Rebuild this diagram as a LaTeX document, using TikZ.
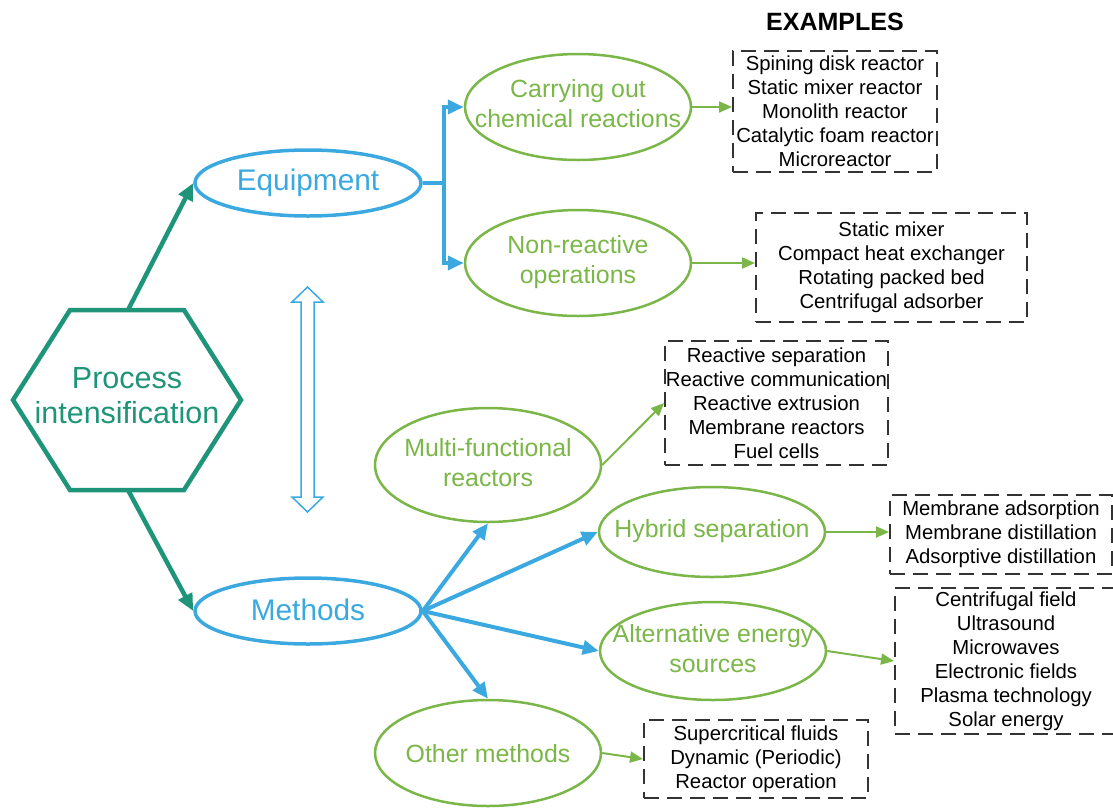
\documentclass[tikz,border=0pt]{standalone}
\usepackage{fontspec}
\setmainfont{Liberation Sans}
\usetikzlibrary{shapes.geometric,arrows.meta,calc}
\definecolor{tealc}{HTML}{1E9479}
\definecolor{bluec}{HTML}{3BA9E0}
\definecolor{greenc}{HTML}{7AB648}
\definecolor{dgray}{HTML}{333333}
\begin{document}
\begin{tikzpicture}[x=1pt,y=-1pt,
 blueell/.style={ellipse,draw=bluec,line width=3.5pt,minimum width=226pt,minimum height=66pt,inner sep=0pt},
 greenell/.style={ellipse,draw=greenc,line width=2.5pt,minimum width=226pt,inner sep=0pt},
 btext/.style={text=bluec,font=\fontsize{29.8}{34}\selectfont,inner sep=0pt},
 gtext/.style={text=greenc,font=\fontsize{24.9}{30}\selectfont,align=center,inner sep=0pt},
 exbox/.style={draw=dgray,line width=2pt,dash pattern=on 15pt off 8pt,inner sep=0pt,font=\fontsize{20.3}{24}\selectfont,align=center,text=black},
 barrow/.style={draw=bluec,line width=4pt,-{Triangle[length=16pt,width=14pt]}},
 garrow/.style={draw=greenc,line width=2pt,-{Triangle[length=13pt,width=11pt]}},
 tarrow/.style={draw=tealc,line width=4.5pt,-{Triangle[length=17pt,width=15pt]}},
]
\useasboundingbox (0,0) rectangle (1113,807);

% hexagon
\coordinate (h1) at (13,400);
\coordinate (h2) at (70,310);
\coordinate (h3) at (184,310);
\coordinate (h4) at (241,400);
\coordinate (h5) at (184,490);
\coordinate (h6) at (70,490);
\draw[tealc,line width=4.5pt,line join=miter] (h1) -- (h2) -- (h3) -- (h4) -- (h5) -- (h6) -- cycle;
\node[text=tealc,font=\fontsize{30.5}{35}\selectfont,align=center,inner sep=0pt] (pi) at (127,396) {Process\\intensification};
\coordinate (hxt) at (128,310);
\coordinate (hxb) at (128,490);

% blue ellipses
\node[blueell] (eq) at (308,183) {};
\node[btext] (eqt) at (308,183) {Equipment};
\node[blueell] (me) at (308,611) {};
\node[btext] (met) at (308,610) {Methods};

\draw[tarrow] (hxt) -- (eq.west);
\draw[tarrow] (hxb) -- (me.west);

% double arrow
\draw[bluec,line width=1.5pt,line join=miter] (307.5,287) -- (323,302) -- (314,302) -- (314,497) -- (323,497) -- (307.5,512) -- (292,497) -- (301,497) -- (301,302) -- (292,302) -- cycle;

% green ellipses
\node[greenell,minimum height=106pt] (co) at (578,107) {};
\node[gtext] (cot) at (578,104) {Carrying out\\chemical reactions};
\node[greenell,minimum height=106pt] (nr) at (578,263) {};
\node[gtext] (nrt) at (578,262) {Non-reactive\\operations};
\node[greenell,minimum height=114pt] (mf) at (488,465) {};
\node[gtext] (mft) at (488,463) {Multi-functional\\reactors};
\node[greenell,minimum height=90pt] (hy) at (712,532) {};
\node[gtext] (hyt) at (712,531) {Hybrid separation};
\node[greenell,minimum height=98pt] (al) at (713,651) {};
\node[gtext] (alt) at (713,649) {Alternative energy\\sources};
\node[greenell,minimum height=106pt] (om) at (488,753) {};
\node[gtext] (omt) at (488,754) {Other methods};

% equipment branches
\draw[bluec,line width=4pt] (eq.east) -- ++(21,0) coordinate (br);
\draw[barrow] (br) |- (co.west);
\draw[barrow] (br) |- (nr.west);

% methods branches
\draw[barrow] (me.east) -- (mf.south);
\draw[barrow] (me.east) -- (hy.west);
\draw[barrow] (me.east) -- (al.west);
\draw[barrow] (me.east) -- (om.north);

% examples
\node[font=\bfseries\fontsize{25}{30}\selectfont,inner sep=0pt] (ex) at (835,22) {EXAMPLES};
\node[exbox,minimum width=204pt,minimum height=121pt] (b1) at (835,111) {Spining disk reactor\\Static mixer reactor\\Monolith reactor\\Catalytic foam reactor\\Microreactor};
\node[exbox,minimum width=271pt,minimum height=109pt] (b2) at (891.5,267.5) {Static mixer\\Compact heat exchanger\\Rotating packed bed\\Centrifugal adsorber};
\node[exbox,minimum width=223pt,minimum height=124pt] (b3) at (776.5,403) {Reactive separation\\Reactive communication\\Reactive extrusion\\Membrane reactors\\Fuel cells};
\node[exbox,minimum width=222pt,minimum height=79pt] (b4) at (1001,534.5) {Membrane adsorption\\Membrane distillation\\Adsorptive distillation};
\node[exbox,minimum width=222pt,minimum height=146pt] (b5) at (1006,661) {Centrifugal field\\Ultrasound\\Microwaves\\Electronic fields\\Plasma technology\\Solar energy};
\node[exbox,minimum width=224pt,minimum height=78pt] (b6) at (756,759) {Supercritical fluids\\Dynamic (Periodic)\\Reactor operation};

% green connectors
\draw[garrow] (co.east) -- (co.east -| b1.west);
\draw[garrow] (nr.east) -- (nr.east -| b2.west);
\draw[garrow] (mf.east) -- (b3.west);
\draw[garrow] (hy.east) -- (hy.east -| b4.west);
\draw[garrow] (al.east) -- (b5.west);
\draw[garrow] (om.east) -- (b6.west);
\end{tikzpicture}
\end{document}
